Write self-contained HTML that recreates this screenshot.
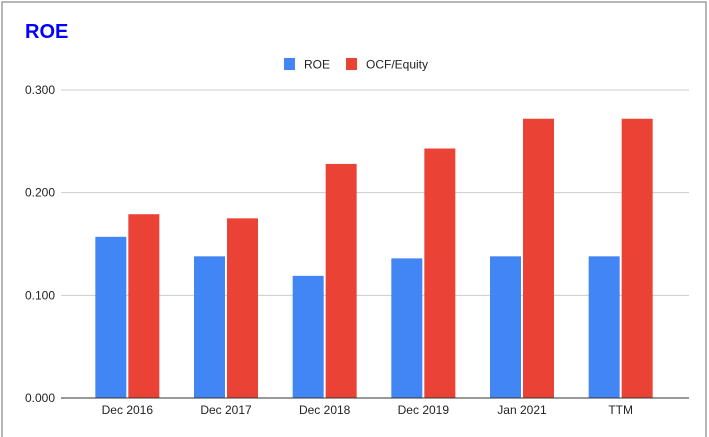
<!DOCTYPE html>
<html><head><meta charset="utf-8"><style>
body{margin:0;background:#fff;font-family:"Liberation Sans",Arial,sans-serif;}
#wrap{position:relative;width:709px;height:437px;overflow:hidden;}
</style></head><body>
<div id="wrap">
<svg id="chart" width="709" height="437" xmlns="http://www.w3.org/2000/svg">
<rect x="2" y="2" width="704" height="440" fill="#fff" stroke="#9e9e9e" stroke-width="1.5"/>
<text x="25" y="38" font-size="20" font-weight="bold" fill="#0000ff" font-family="Liberation Sans, Arial, sans-serif">ROE</text>
<g>
<rect x="284" y="58" width="11" height="12" fill="#4285f4"/>
<text x="304" y="68.5" font-size="12" fill="#222">ROE</text>
<rect x="346" y="58" width="11" height="12" fill="#ea4335"/>
<text x="366" y="68.5" font-size="12" fill="#222">OCF/Equity</text>
</g>
<g id="grid"></g>
<g id="bars"></g>
<g id="labels"></g>
</svg>
</div>
<script>
const categories = ["Dec 2016","Dec 2017","Dec 2018","Dec 2019","Jan 2021","TTM"];
const roeValues = [0.157,0.138,0.119,0.136,0.138,0.138];
const ocfValues = [0.179,0.175,0.228,0.243,0.272,0.272];
const tickValues = [0,0.1,0.2,0.3];
const tickLabels = ["0.000","0.100","0.200","0.300"];

const NS="http://www.w3.org/2000/svg";
const plotL=61, plotR=689, y0=398, yTop=90, yMax=0.3;
const barL=78, barR=670;
function yScale(v){return y0-(v/yMax)*(y0-yTop);}
const band=(barR-barL)/categories.length;
function xCenter(i){return barL+band*(i+0.5);}
function mk(tag,attrs){const e=document.createElementNS(NS,tag);for(const k in attrs)e.setAttribute(k,attrs[k]);return e;}
const grid=document.getElementById('grid'),bars=document.getElementById('bars'),labels=document.getElementById('labels');
tickValues.forEach((v,i)=>{
  const y=yScale(v);
  if(i>0){const l=mk('line',{x1:plotL,x2:plotR,y1:y,y2:y,stroke:'#cccccc','stroke-width':1});
  
  
  grid.appendChild(l);}
  const t=mk('text',{x:55,y:y+4,'font-size':12,fill:'#222','text-anchor':'end'});
  t.textContent=tickLabels[i];
  
  
  labels.appendChild(t);
});
const bw=31;
categories.forEach((c,i)=>{
  const cx=xCenter(i);
  const b1=mk('rect',{x:cx-bw-1,y:yScale(roeValues[i]),width:bw,height:y0-yScale(roeValues[i]),fill:'#4285f4'});
  
  
  bars.appendChild(b1);
  const b2=mk('rect',{x:cx+1,y:yScale(ocfValues[i]),width:bw,height:y0-yScale(ocfValues[i]),fill:'#ea4335'});
  
  
  bars.appendChild(b2);
  const t=mk('text',{x:cx,y:414,'font-size':12,fill:'#222','text-anchor':'middle'});
  t.textContent=c;
  
  
  labels.appendChild(t);
});
const base=mk('line',{x1:plotL,x2:plotR,y1:y0,y2:y0,stroke:'#333','stroke-width':1});


labels.appendChild(base);
</script>
</body></html>
